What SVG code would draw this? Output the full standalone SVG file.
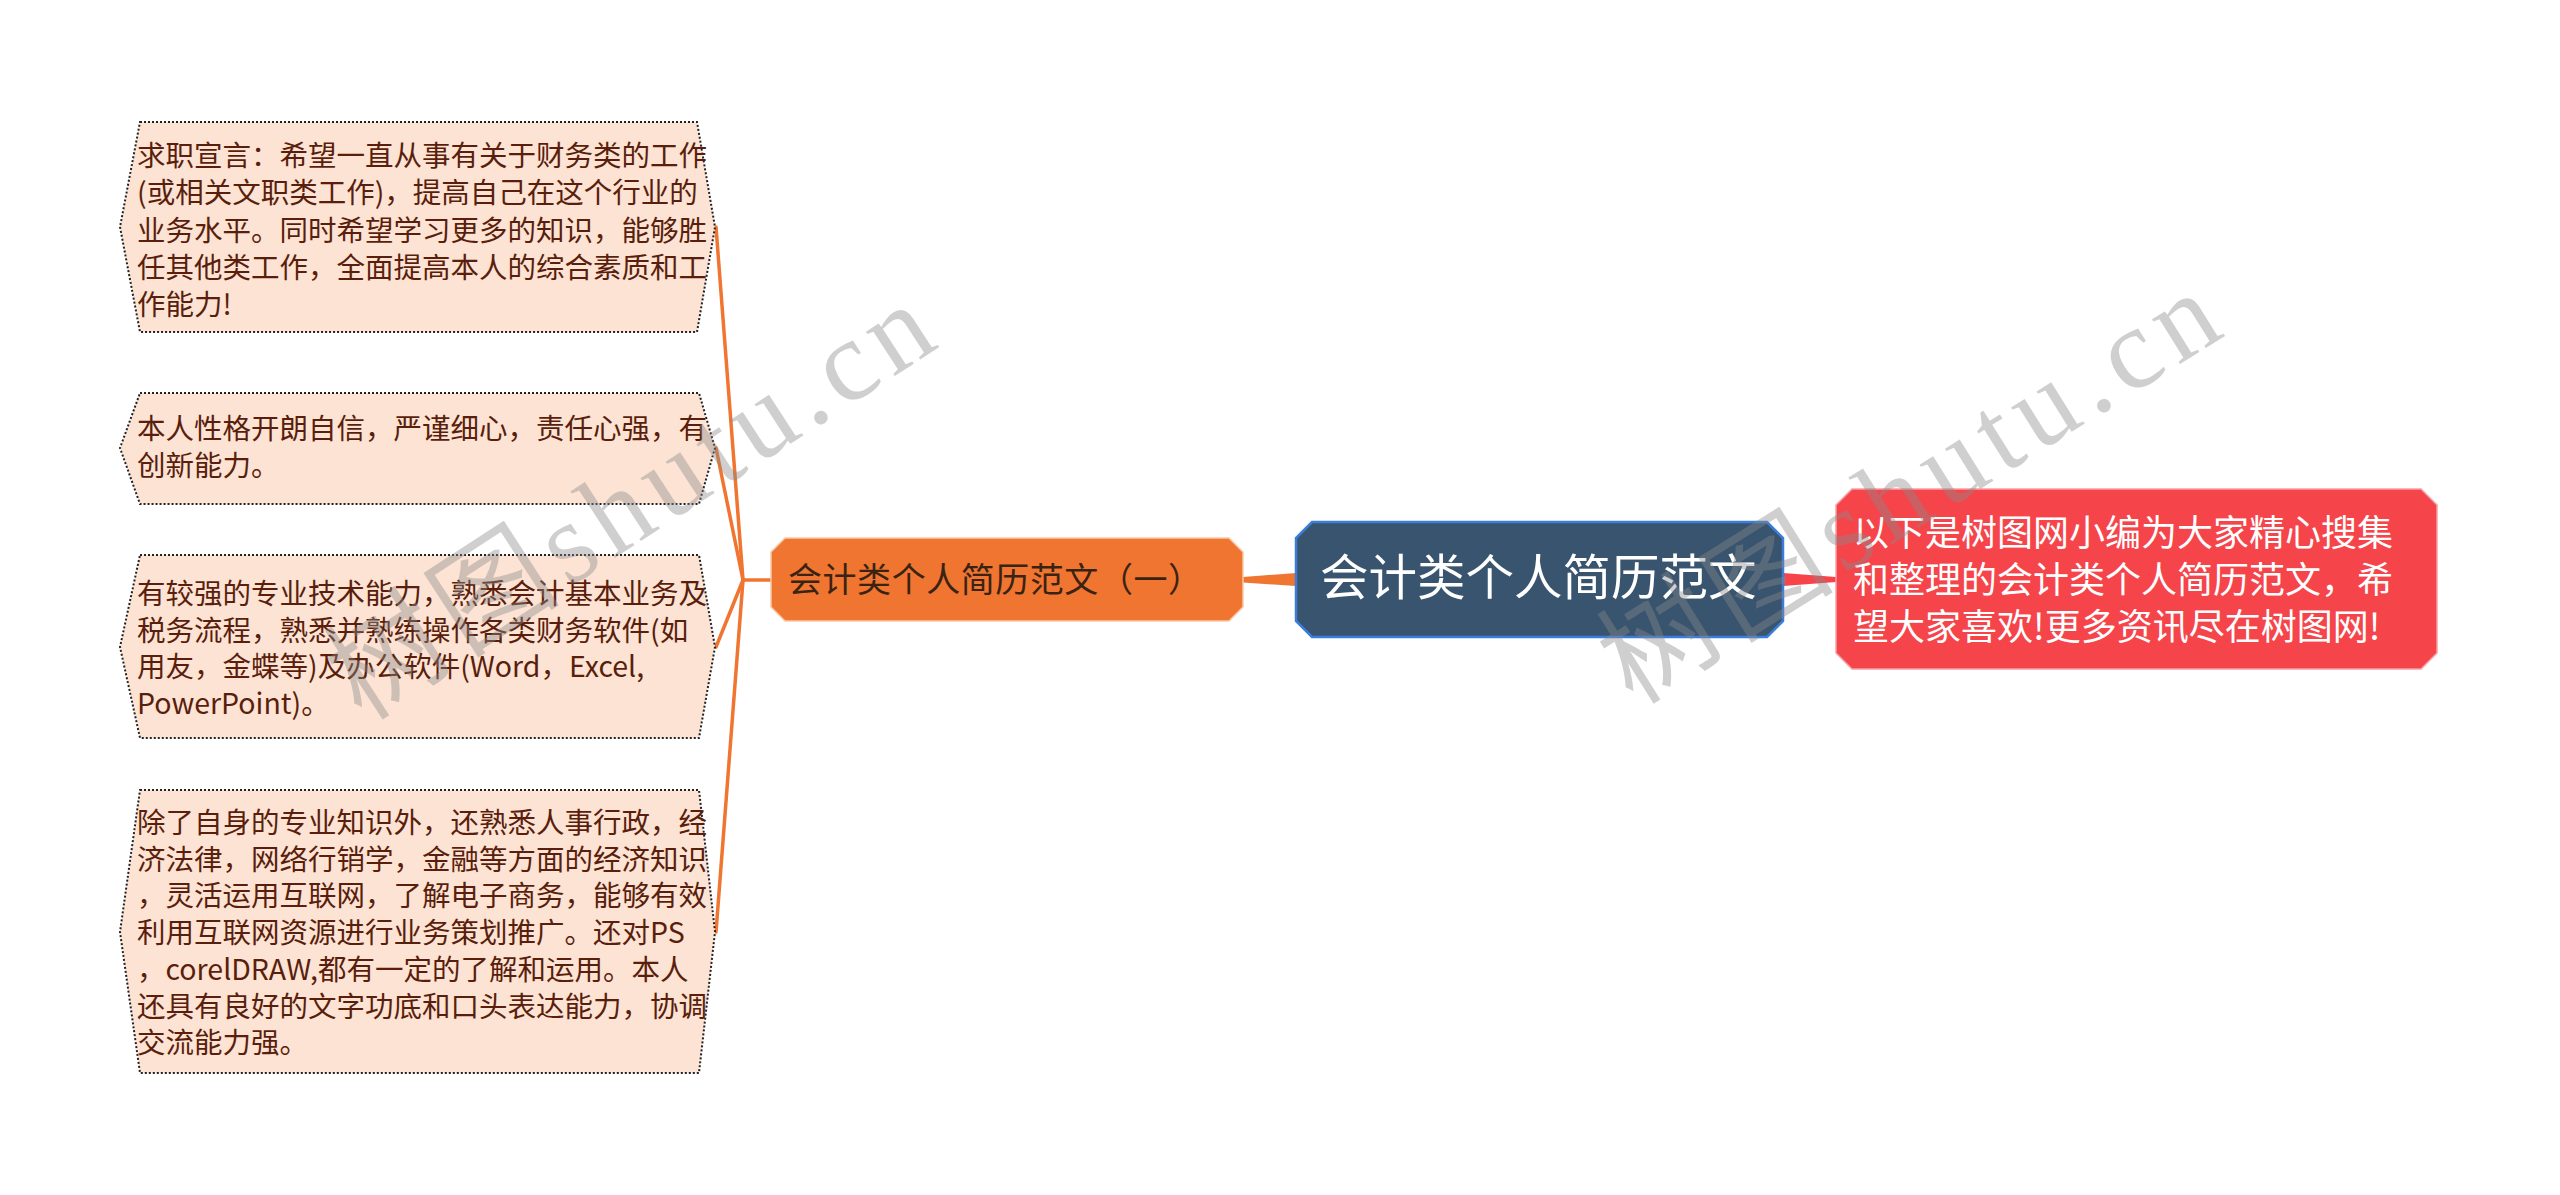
<svg xmlns="http://www.w3.org/2000/svg" width="2560" height="1195" viewBox="0 0 2560 1195">
<style>
.leaf{fill:#fde3d4;stroke:#222;stroke-width:2;stroke-dasharray:2 2}
.lt{font-family:"Noto Sans CJK SC","Noto Sans",sans-serif;font-size:28.5px;fill:#5a1e0c}
.ot{font-family:"Noto Sans CJK SC","Noto Sans",sans-serif;font-size:34px;fill:#3b2314}
.ct{font-family:"Noto Sans CJK SC","Noto Sans",sans-serif;font-size:48.5px;fill:#ffffff}
.rt{font-family:"Noto Sans CJK SC","Noto Sans",sans-serif;font-size:36px;fill:#ffffff}
.wm{font-family:"Liberation Serif","Noto Sans CJK SC",serif;font-size:115px;fill:#8a8a8a;opacity:0.4}
.ol{stroke:#f07530;stroke-width:3.5;fill:none;stroke-linecap:round}
</style>
<rect width="2560" height="1195" fill="#ffffff"/>
<g id="connectors">
<path class="ol" d="M771,580 H743"/>
<path class="ol" d="M743,580 L716,227"/>
<path class="ol" d="M743,580 L716,448"/>
<path class="ol" d="M743,580 L716,647"/>
<path class="ol" d="M743,580 L716,932"/>
<path d="M1243,577 L1296,573 L1296,586 L1243,582.5 Z" fill="#f07530"/>
<path d="M1783,573 L1836,577 L1836,582 L1783,586 Z" fill="#f5454b"/>
</g>
<g id="leaf1">
<path class="leaf" d="M140,122 H697 L715,227 L697,332 H140 L120,227 Z"/>
<text class="lt" x="137"><tspan x="137" y="166">求职宣言：希望一直从事有关于财务类的工作</tspan><tspan x="137" y="203.3">(或相关文职类工作)，提高自己在这个行业的</tspan><tspan x="137" y="240.6">业务水平。同时希望学习更多的知识，能够胜</tspan><tspan x="137" y="277.9">任其他类工作，全面提高本人的综合素质和工</tspan><tspan x="137" y="315.2">作能力!</tspan></text>
</g>
<g id="leaf2">
<path class="leaf" d="M140,393 H699 L715,448 L699,504 H140 L120,448 Z"/>
<text class="lt"><tspan x="137" y="439">本人性格开朗自信，严谨细心，责任心强，有</tspan><tspan x="137" y="476">创新能力。</tspan></text>
</g>
<g id="leaf3">
<path class="leaf" d="M140,555 H699 L715,647 L699,738 H140 L120,647 Z"/>
<text class="lt"><tspan x="137" y="604">有较强的专业技术能力，熟悉会计基本业务及</tspan><tspan x="137" y="640.5">税务流程，熟悉并熟练操作各类财务软件(如</tspan><tspan x="137" y="677">用友，金蝶等)及办公软件(Word，Excel,</tspan><tspan x="137" y="713.5">PowerPoint)。</tspan></text>
</g>
<g id="leaf4">
<path class="leaf" d="M140,790 H699 L715,932 L699,1073 H140 L120,932 Z"/>
<text class="lt"><tspan x="137" y="833">除了自身的专业知识外，还熟悉人事行政，经</tspan><tspan x="137" y="869.7">济法律，网络行销学，金融等方面的经济知识</tspan><tspan x="137" y="906.4">，灵活运用互联网，了解电子商务，能够有效</tspan><tspan x="137" y="943.1">利用互联网资源进行业务策划推广。还对PS</tspan><tspan x="137" y="979.8">，corelDRAW,都有一定的了解和运用。本人</tspan><tspan x="137" y="1016.5">还具有良好的文字功底和口头表达能力，协调</tspan><tspan x="137" y="1053.2">交流能力强。</tspan></text>
</g>
<g id="branch">
<path d="M785,538 H1229 L1243,552 V607 L1229,621 H785 L771,607 V552 Z" fill="#f07530" stroke="#f8c9a6" stroke-width="1.5"/>
<text class="ot" x="788" y="592" textLength="414" lengthAdjust="spacing">会计类个人简历范文（一）</text>
</g>
<g id="center">
<path d="M1312,522 H1767 L1783,538 V621 L1767,637 H1312 L1296,621 V538 Z" fill="#38546f" stroke="#3b7dd8" stroke-width="2.5"/>
<text class="ct" x="1320" y="595">会计类个人简历范文</text>
</g>
<g id="summary">
<path d="M1852,489 H2421 L2437,505 V653 L2421,669 H1852 L1836,653 V505 Z" fill="#f5454b" stroke="#f7a0a4" stroke-width="1.5"/>
<text class="rt"><tspan x="1853" y="546">以下是树图网小编为大家精心搜集</tspan><tspan x="1853" y="593">和整理的会计类个人简历范文，希</tspan><tspan x="1853" y="640">望大家喜欢!更多资讯尽在树图网!</tspan></text>
</g>
<g id="watermarks">
<text class="wm" transform="translate(362,722) rotate(-33)" textLength="690" lengthAdjust="spacing">树图shutu.cn</text>
<text class="wm" transform="translate(1633,706) rotate(-32)" textLength="700" lengthAdjust="spacing">树图shutu.cn</text>
</g>
</svg>
